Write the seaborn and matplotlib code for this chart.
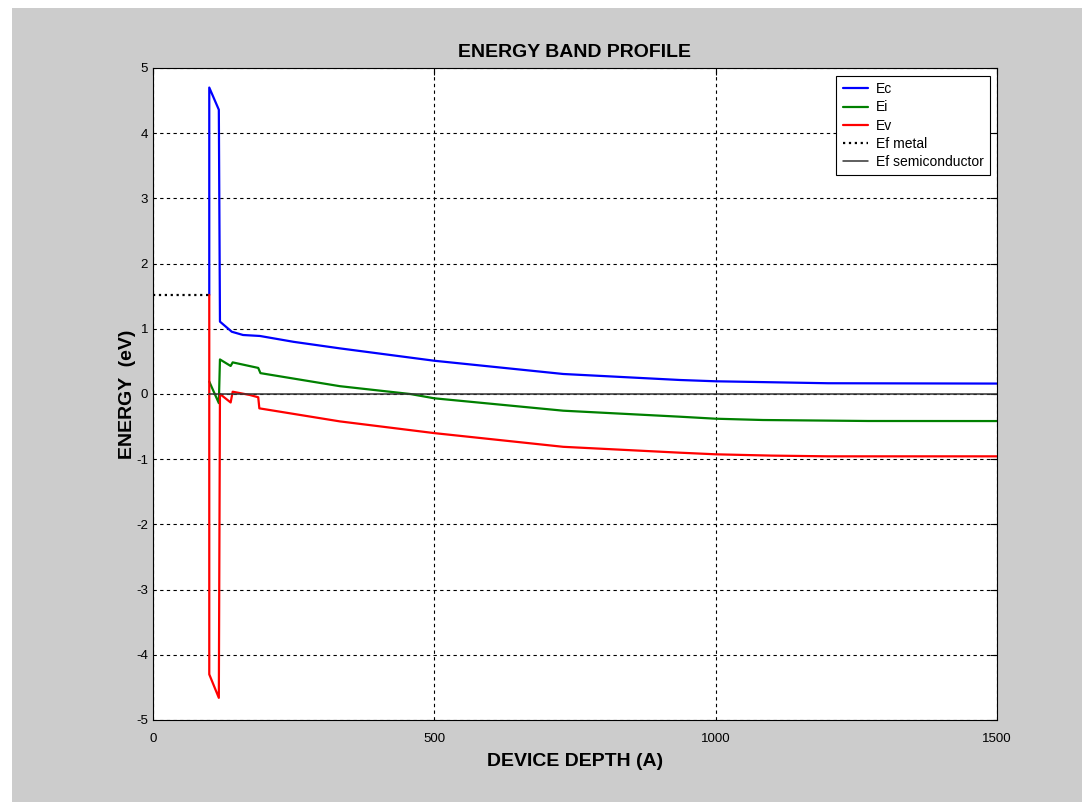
import matplotlib
matplotlib.use("Agg")
import matplotlib.pyplot as plt
from matplotlib.patches import Rectangle
import pandas as pd
import seaborn as sns

# band edges (depth in A, energy in eV)
depth_ec = [100, 100, 117, 119, 140, 160, 190, 250, 332, 500, 729, 936, 1000, 1100, 1200, 1500]
ec = [1.52, 4.70, 4.36, 1.11, 0.955, 0.905, 0.89, 0.80, 0.70, 0.51, 0.307, 0.215, 0.195, 0.18, 0.165, 0.16]

depth_ei = [100, 117, 119, 138, 141.6, 187, 191, 332, 457, 500, 729, 936, 1000, 1084, 1271, 1500]
ei = [0.19, -0.14, 0.53, 0.43, 0.485, 0.40, 0.32, 0.12, 0.0, -0.066, -0.256, -0.348, -0.379, -0.399, -0.414, -0.415]

depth_ev = [100, 100, 117, 119, 138, 141.6, 172, 187, 189, 332, 500, 729, 936, 1000, 1100, 1200, 1500]
ev = [1.52, -4.30, -4.66, 0.0, -0.13, 0.035, -0.015, -0.05, -0.22, -0.42, -0.60, -0.81, -0.90, -0.925, -0.945, -0.956, -0.956]

depth_efm = [0, 100]
ef_metal = [1.52, 1.52]

depth_efs = [100, 1500]
ef_semi = [0.0, 0.0]

sns.set_style("white")
plt.rcParams['font.family'] = ['Liberation Sans', 'DejaVu Sans']
plt.rcParams['axes.unicode_minus'] = False
plt.rcParams['text.color'] = 'black'
plt.rcParams['axes.labelcolor'] = 'black'

fig = plt.figure(figsize=(10.82, 8.02), dpi=100)
fig.patch.set_facecolor('white')
fig.add_artist(Rectangle((12 / 1082, 0), 1, 1 - 8 / 802, transform=fig.transFigure,
                         facecolor='#cccccc', edgecolor='none', zorder=-10))
ax = fig.add_axes([153 / 1082, 1 - 720 / 802, 844 / 1082, 652 / 802])
ax.set_facecolor('white')

sns.lineplot(x=depth_ec, y=ec, color='#0000ff', lw=1.6, sort=False, estimator=None, label='Ec', ax=ax)
sns.lineplot(x=depth_ei, y=ei, color='#008000', lw=1.6, sort=False, estimator=None, label='Ei', ax=ax)
sns.lineplot(x=depth_ev, y=ev, color='#ff0000', lw=1.6, sort=False, estimator=None, label='Ev', ax=ax)
sns.lineplot(x=depth_efm, y=ef_metal, color='black', lw=1.6, linestyle=':', sort=False, estimator=None,
             label='Ef metal', ax=ax)
sns.lineplot(x=depth_efs, y=ef_semi, color='#333333', lw=1.1, sort=False, estimator=None,
             label='Ef semiconductor', ax=ax)

ax.set_xlim(0, 1500)
ax.set_ylim(-5, 5)
ax.set_xticks([0, 500, 1000, 1500])
ax.set_yticks(range(-5, 6))
ax.grid(True, color='black', linestyle=(0, (3, 3)), linewidth=0.8)
ax.set_axisbelow(True)
for s in ax.spines.values():
    s.set_visible(True)
    s.set_color('black')
    s.set_linewidth(0.8)
ax.tick_params(direction='in', length=5, labelsize=9.5, colors='black', top=True, right=True,
               labeltop=False, labelright=False)
ax.tick_params(axis='x', pad=9)

ax.set_title('ENERGY BAND PROFILE', fontsize=14, fontweight='bold', pad=8)
ax.set_xlabel('DEVICE DEPTH (A)', fontsize=14, fontweight='bold', labelpad=6)
ax.set_ylabel('ENERGY  (eV)', fontsize=14, fontweight='bold', labelpad=0)

leg = ax.legend(loc='upper right', fontsize=10, frameon=True, fancybox=False, framealpha=1,
                edgecolor='black', handlelength=1.8, handletextpad=0.6, borderpad=0.45,
                labelspacing=0.3, borderaxespad=0, bbox_to_anchor=(0.9917, 0.9877))
leg.get_frame().set_linewidth(0.8)

fig.savefig('out.png', dpi=100, facecolor=fig.get_facecolor())
